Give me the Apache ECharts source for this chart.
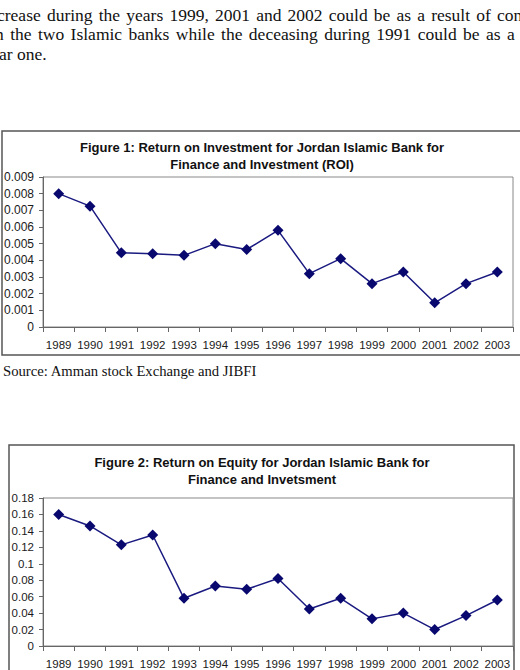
<!DOCTYPE html>
<html><head><meta charset="utf-8">
<script src="https://cdn.jsdelivr.net/npm/echarts@6/dist/echarts.min.js"></script>
<style>html,body{margin:0;padding:0;background:#fff;}#c{width:520px;height:670px;}</style>
</head><body><div id="c"></div>
<script>
const years = ['1989','1990','1991','1992','1993','1994','1995','1996','1997','1998','1999','2000','2001','2002','2003'];
const roi = [0.0080,0.00725,0.00445,0.0044,0.0043,0.0050,0.00465,0.0058,0.0032,0.0041,0.0026,0.0033,0.00145,0.0026,0.0033];
const roe = [0.160,0.146,0.123,0.135,0.058,0.073,0.069,0.082,0.045,0.058,0.033,0.040,0.020,0.037,0.056];
const title1 = 'Figure 1: Return on Investment for Jordan Islamic Bank for\nFinance and Investment (ROI)';
const title2 = 'Figure 2: Return on Equity for Jordan Islamic Bank for\nFinance and Invetsment';
const paraLines = ['crease during the years 1999, 2001 and 2002 could be as a result of con',
                   'n the two Islamic banks while the deceasing during 1991 could be as a',
                   'ar one.'];
const sourceText = 'Source: Amman stock Exchange and JIBFI';

const chart = echarts.init(document.getElementById('c'), null, {renderer:'svg'});
const sans = "'Liberation Sans', Arial, sans-serif";
const serif = "'Liberation Serif', 'Times New Roman', serif";
const axisFont = {fontFamily:sans, fontSize:11.5, color:'#1a1a1a'};
function yAxis(gi, max, interval, dec, fs){
  return {type:'value', gridIndex:gi, min:0, max:max, interval:interval,
    axisLine:{show:true, lineStyle:{color:'#666', width:1}},
    axisTick:{show:true, length:4, lineStyle:{color:'#666'}},
    splitLine:{show:false},
    axisLabel:Object.assign({}, axisFont, {fontSize:fs, margin:9, formatter:v=>String(+v.toFixed(dec))})};
}
function xAxis(gi){
  return {type:'category', gridIndex:gi, data:years, boundaryGap:true,
    axisLine:{show:true, lineStyle:{color:'#666', width:1}},
    axisTick:{show:true, length:5, alignWithLabel:false, lineStyle:{color:'#666'}},
    axisLabel:Object.assign({margin:12, interval:0}, axisFont)};
}
function series(gi, data){
  return {type:'line', xAxisIndex:gi, yAxisIndex:gi, data:data, symbol:'diamond', symbolSize:11,
    lineStyle:{color:'#1a1a80', width:1.5}, itemStyle:{color:'#08086e'}, animation:false};
}
const graphics = [
  {type:'rect', shape:{x:2, y:131, width:560, height:224}, style:{fill:'none', stroke:'#555', lineWidth:1.5}, z:-1},
  {type:'rect', shape:{x:9, y:445, width:505, height:260}, style:{fill:'none', stroke:'#555', lineWidth:1.5}, z:-1},
  {type:'text', x:262, y:138.5, style:{text:title1, font:'bold 13px '+sans, textAlign:'center', lineHeight:17, fill:'#111'}},
  {type:'text', x:262, y:453.5, style:{text:title2, font:'bold 13px '+sans, textAlign:'center', lineHeight:17, fill:'#111'}},
  {type:'text', x:3, y:371, style:{text:sourceText, font:'14.7px '+serif, fill:'#111', verticalAlign:'middle'}}
];
// justified paragraph layout: [start x, x of last word start] per line (null = not justified)
const paraFont = '17.5px ' + serif;
const lineLayout = [[-3, 497], [-5, 507], [-1, null]];
const ctx = document.createElement('canvas').getContext('2d');
ctx.font = paraFont;
paraLines.forEach((t,i)=>{
  const y = 5.5 + i*19.6;
  const [x0, xLast] = lineLayout[i];
  const words = t.split(' ');
  if (xLast === null || words.length < 2) {
    graphics.push({type:'text', x:x0, y:y, style:{text:t, font:paraFont, fill:'#111'}});
    return;
  }
  const widths = words.map(w=>ctx.measureText(w).width);
  const inner = widths.slice(0,-1).reduce((a,b)=>a+b,0);
  const gap = (xLast - x0 - inner) / (words.length-1);
  let x = x0;
  words.forEach((w,j)=>{
    graphics.push({type:'text', x:x, y:y, style:{text:w, font:paraFont, fill:'#111'}});
    x += widths[j] + gap;
  });
});
chart.setOption({
  backgroundColor:'#fff',
  animation:false,
  grid:[
    {left:43, top:177, width:470, height:150, show:true, borderColor:'#888', borderWidth:1, containLabel:false},
    {left:43, top:498, width:470, height:149, show:true, borderColor:'#888', borderWidth:1, containLabel:false}
  ],
  xAxis:[xAxis(0), xAxis(1)],
  yAxis:[yAxis(0, 0.009, 0.001, 3, 12), yAxis(1, 0.18, 0.02, 2, 11.5)],
  series:[series(0, roi), series(1, roe)],
  graphic:graphics
});
</script></body></html>
